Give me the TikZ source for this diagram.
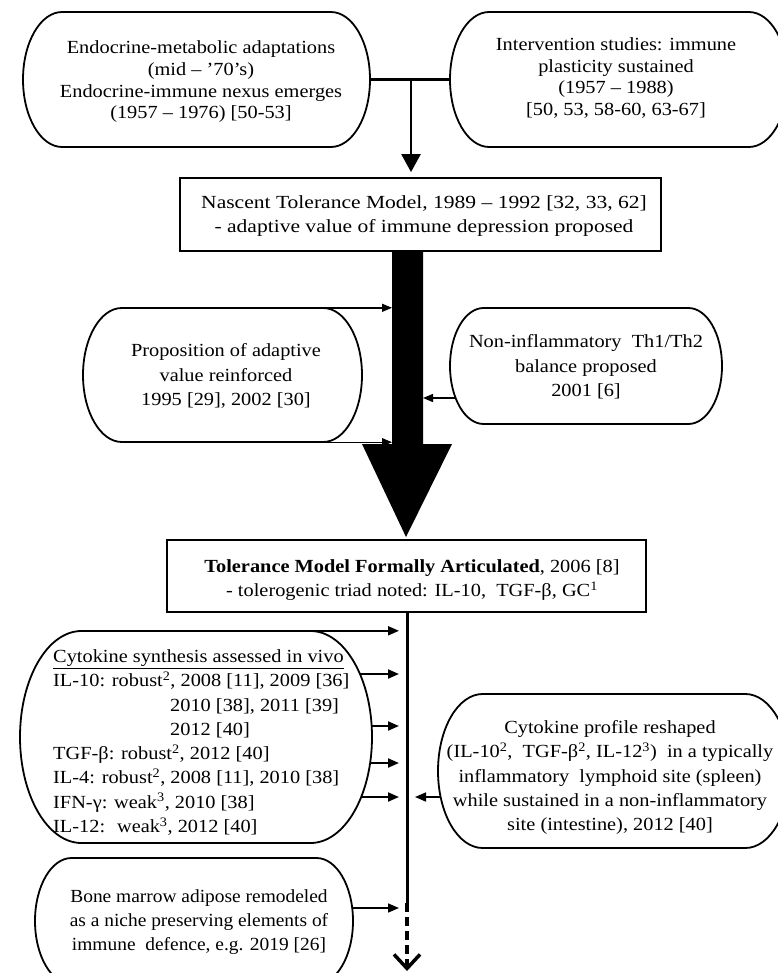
\documentclass[tikz,border=0pt]{standalone}
\usepackage{fontspec}
\setmainfont{Liberation Serif}[FakeStretch=1.1]
\newfontfamily\wideserif{Liberation Serif}[FakeStretch=1.165]
\newfontfamily\narrowserif{Liberation Serif}[FakeStretch=1.05]
\usetikzlibrary{arrows.meta,calc}
\newcommand{\fsA}{\fontsize{18.5}{21.7}\selectfont}
\newcommand{\fsB}{\fontsize{18.5}{24.3}\selectfont}
\newcommand{\mystad}[5]{%
  \pgfmathsetmacro{\stL}{#2-#4/2}%
  \pgfmathsetmacro{\stR}{#2+#4/2}%
  \pgfmathsetmacro{\stT}{#3-#5/2}%
  \pgfmathsetmacro{\stB}{#3+#5/2}%
  \pgfmathsetmacro{\stX}{0.29*#5}%
  \pgfmathsetmacro{\stKx}{0.5523*\stX}%
  \pgfmathsetmacro{\stKy}{0.5523*#5/2}%
  \node[inner sep=0pt, minimum width=#4pt, minimum height=#5pt] (#1) at (#2,#3) {};
  \draw[boxline] (\stL+\stX,\stT) -- (\stR-\stX,\stT)
     .. controls (\stR-\stX+\stKx,\stT) and (\stR,#3-\stKy) .. (\stR,#3)
     .. controls (\stR,#3+\stKy) and (\stR-\stX+\stKx,\stB) .. (\stR-\stX,\stB)
     -- (\stL+\stX,\stB)
     .. controls (\stL+\stX-\stKx,\stB) and (\stL,#3+\stKy) .. (\stL,#3)
     .. controls (\stL,#3-\stKy) and (\stL+\stX-\stKx,\stT) .. cycle;
}
\begin{document}
\begin{tikzpicture}[x=1pt,y=-1pt,
  boxline/.style={line width=1.8pt, line join=round},
  rbox/.style={draw, line width=1.8pt, rectangle, inner sep=0pt},
  ttop/.style={align=center, inner sep=0pt, font=\fsA},
  tmid/.style={align=center, inner sep=0pt, font=\fsB},
  thinarrow/.style={line width=1.4pt, -{Triangle[length=10pt,width=8pt]}},
  midarrow/.style={line width=2pt, -{Triangle[length=11pt,width=9pt]}},
]
\useasboundingbox (0,0) rectangle (777,973);
\fill[white] (0,0) rectangle (777,973);

% top boxes
\mystad{B1}{196.5}{79.5}{347}{135}
\node[ttop] (B1t) at (201,82) {Endocrine-metabolic adaptations\\(mid – ’70’s)\\Endocrine-immune nexus emerges\\(1957 – 1976) [50-53]};
\mystad{B2}{619}{79.5}{338}{135}
\node[ttop] (B2t) at (616,78) {Intervention studies: immune\\plasticity sustained\\(1957 – 1988)\\{[}50, 53, 58-60, 63-67]};

% nascent model
\node[rbox, minimum width=481pt, minimum height=73pt] (B3) at (420.5,214.5) {};
\node[tmid, font=\fsB\wideserif] (B3t) at (424,216) {Nascent Tolerance Model, 1989 – 1992 [32, 33, 62]\\- adaptive value of immune depression proposed};

% side boxes of big arrow
\mystad{B4}{222.5}{375}{279}{134}
\node[tmid] (B4t) at (226,376) {Proposition of adaptive\\value reinforced\\1995 [29], 2002 [30]};
\mystad{B5}{586}{366}{272}{116}
\node[tmid] (B5t) at (586,367) {Non-inflammatory \ Th1/Th2\\balance proposed\\2001 [6]};

% formal model
\node[rbox, minimum width=479pt, minimum height=72pt] (B6) at (406.5,576) {};
\node[tmid] (B6t) at (412,580) {\textbf{Tolerance Model Formally Articulated}, 2006 [8]\\- tolerogenic triad noted: IL-10, \ TGF-β, GC\textsuperscript{1}};

% cytokine boxes
\mystad{B7}{196}{737}{352}{212}
\node[tmid, align=left, anchor=west] (B7t) at (53,742.5) {\underline{Cytokine synthesis assessed in vivo}\\
IL-10: robust\textsuperscript{2}, 2008 [11], 2009 [36]\\
\hspace*{117pt}2010 [38], 2011 [39]\\
\hspace*{117pt}2012 [40]\\
TGF-β: robust\textsuperscript{2}, 2012 [40]\\
IL-4: robust\textsuperscript{2}, 2008 [11], 2010 [38]\\
IFN-γ: weak\textsuperscript{3}, 2010 [38]\\
IL-12: \ weak\textsuperscript{3}, 2012 [40]};
\mystad{B8}{614}{771}{352}{154}
\node[tmid] (B8t) at (610,777.5) {Cytokine profile reshaped\\(IL-10\textsuperscript{2}, \ TGF-β\textsuperscript{2}, IL-12\textsuperscript{3}) \ in a typically\\inflammatory \ lymphoid site (spleen)\\while sustained in a non-inflammatory\\site (intestine), 2012 [40]};
\mystad{B9}{194}{921}{318}{126}
\node[tmid, font=\fsB\narrowserif] (B9t) at (199,922) {Bone marrow adipose remodeled\\as a niche preserving elements of\\immune \ defence, e.g. 2019 [26]};

% top connector
\coordinate (jx) at (411,0);
\draw[line width=2.5pt] (B1.east) -- (B2.west);
\draw[line width=2.5pt, -{Triangle[length=18pt,width=19pt]}, shorten >=5pt] (B1.east -| jx) -- (B3.north -| jx);

% big black arrow
\fill (392,251) -- (423,251) -- (423,444) -- (452,444) -- (406,537) -- (362,444) -- (392,444) -- cycle;
\coordinate (shL) at (392,0);
\coordinate (shR) at (423,0);
\coordinate (a5) at ($(B5.west)+(5.6,32)$);
\draw[thinarrow] (B4.north) -- (B4.north -| shL);
\draw[thinarrow] (B4.south) -- (B4.south -| shL);
\draw[thinarrow] (a5) -- (a5 -| shR);

% main timeline
\coordinate (mx) at (407,0);
\coordinate (md) at (407,903);
\coordinate (mend) at (407,971);
\draw[line width=3pt] (B6.south -| mx) -- (md);
\draw[line width=3.5pt, dash pattern=on 9pt off 5pt, -{Straight Barb[length=14pt,width=26pt]}] (md) -- (mend);

% arrows into the timeline
\coordinate (tL) at (399,0);
\coordinate (tR) at (415,0);
\coordinate (a71) at ($(B7.east)+(-12,-63)$);
\coordinate (a72) at ($(B7.east)+(-0.3,-11)$);
\coordinate (a73) at ($(B7.east)+(-1.9,26)$);
\coordinate (a74) at ($(B7.east)+(-10.8,60)$);
\coordinate (a8) at ($(B8.west)+(2.6,26)$);
\coordinate (a9) at ($(B9.east)+(-0.8,-13)$);
\draw[midarrow] (B7.north) -- (B7.north -| tL);
\draw[midarrow] (a71) -- (a71 -| tL);
\draw[midarrow] (a72) -- (a72 -| tL);
\draw[midarrow] (a73) -- (a73 -| tL);
\draw[midarrow] (a74) -- (a74 -| tL);
\draw[midarrow, line width=1.6pt] (a8) -- (a8 -| tR);
\draw[midarrow, line width=1.6pt] (a9) -- (a9 -| tL);
\end{tikzpicture}
\end{document}
